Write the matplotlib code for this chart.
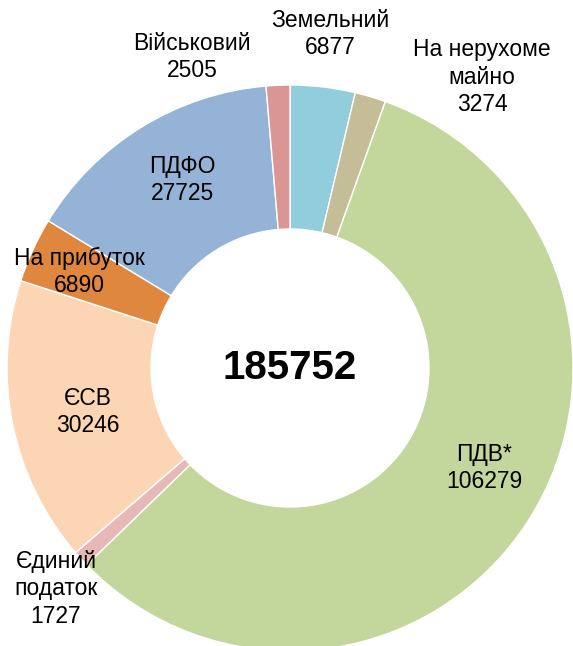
import matplotlib.pyplot as plt

# Структура податкових надходжень
labels = ['Земельний', 'На нерухоме\nмайно', 'ПДВ*', 'Єдиний\nподаток',
          'ЄСВ', 'На прибуток', 'ПДФО', 'Військовий']
values = [6877, 3274, 106279, 1727, 30246, 6890, 27725, 2505]
total = 185752
colors = ['#92CDDC', '#C4BD97', '#C3D69B', '#E6B9B8',
          '#FCD5B5', '#E0873F', '#95B3D7', '#D99694']

W, H = 573, 646
fig = plt.figure(figsize=(W / 100, H / 100), dpi=100)
ax = fig.add_axes([0, 0, 1, 1])

cx, cy, r_out, r_in = 290, H - 368, 283, 139
ax.pie(values, colors=colors, startangle=90, counterclock=False,
       center=(cx, cy), radius=r_out,
       wedgeprops=dict(width=r_out - r_in, edgecolor='white', linewidth=1.0))
ax.set_xlim(0, W)
ax.set_ylim(0, H)
ax.set_aspect('equal')
ax.axis('off')

font = 'Liberation Sans'
ax.text(cx, cy, str(total), ha='center', va='center', fontsize=29,
        fontweight='bold', family=font)

# центри підписів у пікселях (від верхнього краю)
label_pos = [(330, 34), (482, 77), (484, 468), (56, 589),
             (88, 412), (79, 272), (182, 180), (192, 57)]
for lab, val, (x, y) in zip(labels, values, label_pos):
    ax.text(x, H - y, lab + '\n' + str(val), ha='center', va='center',
            fontsize=16.5, family=font, linespacing=1.25)

fig.savefig('out.png', dpi=100)
